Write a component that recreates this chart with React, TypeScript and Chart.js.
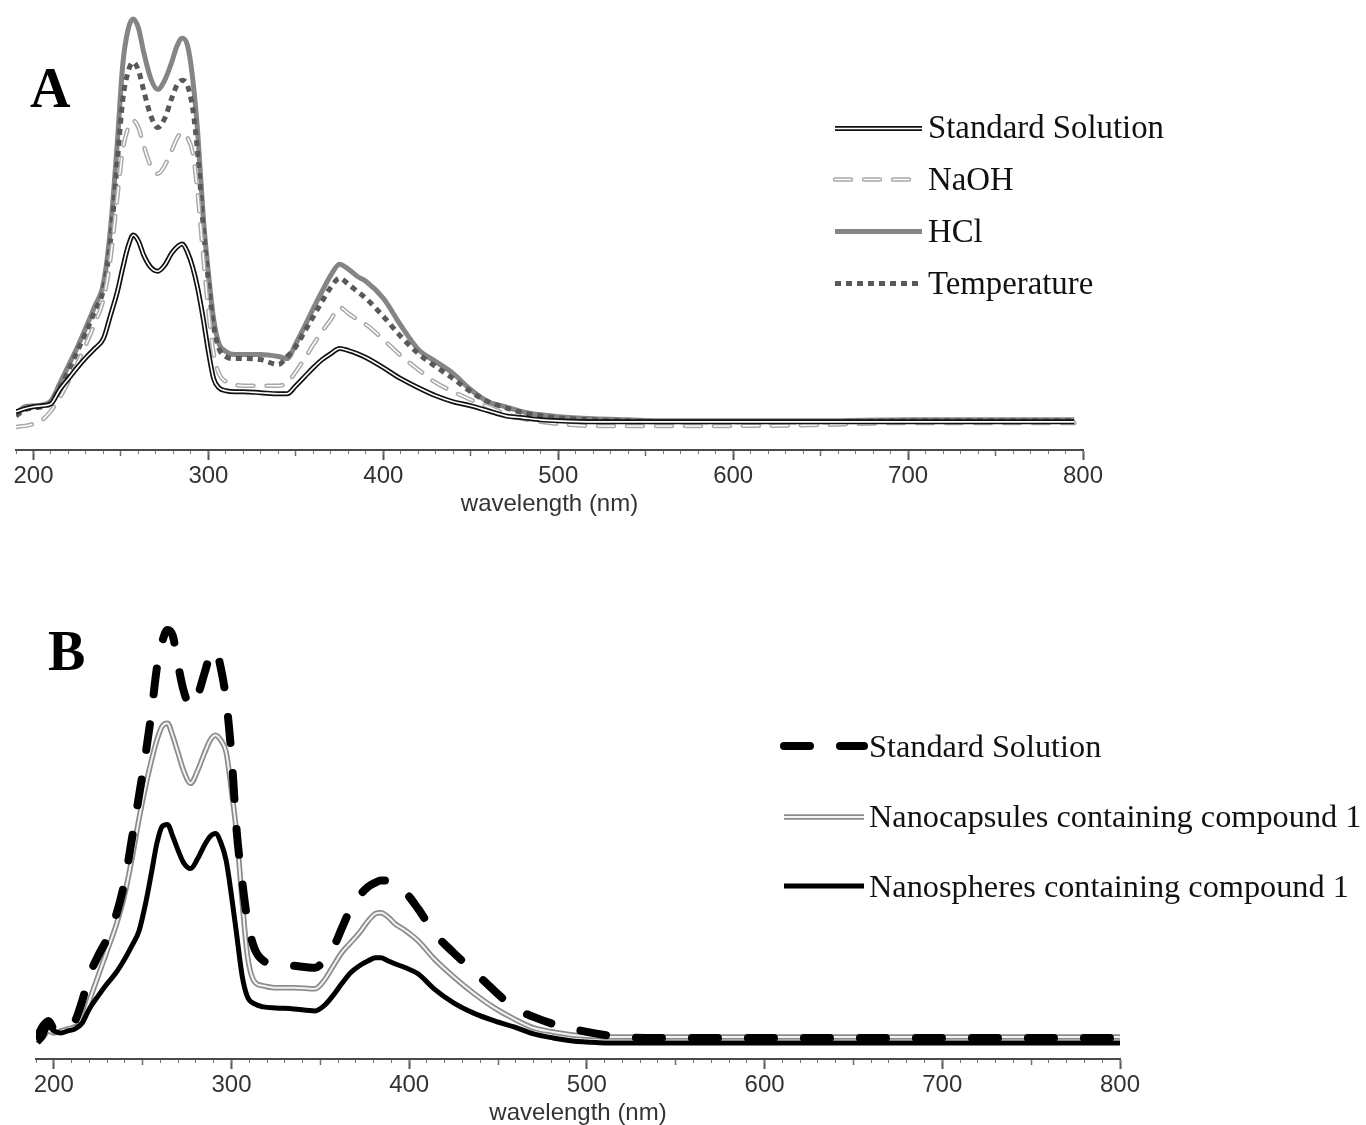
import React, { useEffect, useRef } from 'react';
import { Chart, registerables } from 'chart.js';

Chart.register(...registerables);

// ---------- Panel A data (wavelength nm, absorbance a.u.) ----------
const wavelengthA = [190, 195, 200, 205, 210, 215, 220, 225, 230, 235, 240, 244, 248, 251, 254, 257, 260, 263, 267, 271, 275, 279, 282, 285, 288, 291, 294, 297, 300, 303, 306, 310, 315, 320, 330, 340, 345, 350, 355, 360, 365, 370, 375, 380, 385, 390, 400, 410, 420, 430, 440, 450, 460, 470, 480, 490, 500, 520, 540, 560, 580, 600, 650, 700, 750, 795];

const standardA = [0.19, 0.205, 0.215, 0.22, 0.23, 0.30, 0.355, 0.41, 0.46, 0.505,
  0.555, 0.67, 0.79, 0.905, 1.01, 1.07, 1.04, 0.97, 0.91, 0.89,
  0.92, 0.98, 1.01, 1.025, 0.985, 0.91, 0.80, 0.655, 0.49, 0.355,
  0.31, 0.295, 0.29, 0.29, 0.285, 0.28, 0.28, 0.32, 0.365, 0.41,
  0.45, 0.48, 0.505, 0.495, 0.48, 0.46, 0.41, 0.355, 0.31, 0.27,
  0.24, 0.22, 0.195, 0.17, 0.16, 0.15, 0.145, 0.14, 0.14, 0.14,
  0.14, 0.14, 0.14, 0.14, 0.14, 0.14];

const naohA = [0.115, 0.12, 0.13, 0.15, 0.195, 0.26, 0.34, 0.43, 0.525, 0.63,
  0.75, 0.95, 1.265, 1.49, 1.60, 1.64, 1.605, 1.515, 1.415, 1.375,
  1.415, 1.49, 1.55, 1.58, 1.555, 1.48, 1.265, 0.965, 0.69, 0.48,
  0.38, 0.34, 0.325, 0.32, 0.32, 0.32, 0.335, 0.39, 0.455, 0.525,
  0.59, 0.65, 0.71, 0.68, 0.65, 0.625, 0.55, 0.47, 0.40, 0.335,
  0.29, 0.25, 0.215, 0.18, 0.155, 0.14, 0.13, 0.12, 0.12, 0.12,
  0.12, 0.12, 0.125, 0.135, 0.135, 0.135];

const hclA = [0.18, 0.215, 0.22, 0.225, 0.245, 0.33, 0.42, 0.51, 0.61, 0.715,
  0.83, 1.10, 1.54, 1.915, 2.09, 2.145, 2.10, 1.98, 1.85, 1.795,
  1.84, 1.93, 2.01, 2.05, 2.015, 1.85, 1.565, 1.165, 0.88, 0.65,
  0.53, 0.49, 0.475, 0.475, 0.475, 0.465, 0.455, 0.53, 0.615, 0.705,
  0.79, 0.87, 0.925, 0.90, 0.865, 0.84, 0.755, 0.62, 0.50, 0.44,
  0.38, 0.30, 0.24, 0.215, 0.19, 0.175, 0.165, 0.155, 0.15, 0.145,
  0.145, 0.145, 0.145, 0.15, 0.15, 0.15];

const temperatureA = [0.17, 0.20, 0.21, 0.215, 0.235, 0.31, 0.395, 0.49, 0.585, 0.69,
  0.80, 1.04, 1.44, 1.74, 1.88, 1.93, 1.89, 1.79, 1.665, 1.605,
  1.65, 1.75, 1.815, 1.84, 1.815, 1.70, 1.465, 1.115, 0.84, 0.615,
  0.505, 0.465, 0.455, 0.455, 0.45, 0.425, 0.465, 0.515, 0.59, 0.665,
  0.74, 0.81, 0.855, 0.825, 0.79, 0.755, 0.665, 0.565, 0.48, 0.415,
  0.355, 0.29, 0.24, 0.21, 0.185, 0.17, 0.16, 0.15, 0.145, 0.14,
  0.14, 0.14, 0.14, 0.145, 0.145, 0.145];

// ---------- Panel B data ----------
const wavelengthB = [191, 194, 197, 200, 204, 208, 212, 216, 220, 225, 230, 235, 240, 244, 248, 252, 255, 258, 261, 264, 267, 270, 273, 277, 281, 285, 288, 291, 294, 297, 300, 303, 306, 309, 313, 318, 325, 335, 347, 352, 357, 362, 367, 372, 377, 381, 384, 388, 392, 398, 405, 414, 425, 436, 448, 459, 470, 481, 492, 500, 510, 520, 540, 560, 580, 600, 640, 680, 720, 760, 800];

const standardB = [0.115, 0.165, 0.19, 0.15, 0.14, 0.155, 0.19, 0.29, 0.415, 0.515,
  0.60, 0.715, 0.89, 1.10, 1.315, 1.54, 1.73, 1.95, 2.08, 2.14,
  2.11, 1.965, 1.84, 1.76, 1.815, 1.93, 2.015, 2.04, 1.95, 1.79,
  1.515, 1.13, 0.89, 0.69, 0.55, 0.49, 0.475, 0.465, 0.455, 0.49,
  0.55, 0.65, 0.75, 0.815, 0.86, 0.88, 0.89, 0.89, 0.87, 0.83,
  0.75, 0.63, 0.53, 0.44, 0.34, 0.255, 0.21, 0.175, 0.15, 0.135,
  0.12, 0.11, 0.105, 0.105, 0.105, 0.105, 0.105, 0.105, 0.105, 0.105,
  0.105];

const nanocapsulesB = [0.09, 0.11, 0.14, 0.13, 0.14, 0.15, 0.16, 0.18, 0.29, 0.415,
  0.54, 0.665, 0.825, 1.00, 1.20, 1.375, 1.49, 1.59, 1.66, 1.675,
  1.61, 1.525, 1.44, 1.375, 1.44, 1.53, 1.59, 1.615, 1.59, 1.53,
  1.34, 1.115, 0.79, 0.515, 0.385, 0.365, 0.355, 0.355, 0.35, 0.39,
  0.46, 0.53, 0.58, 0.63, 0.69, 0.725, 0.73, 0.71, 0.675, 0.64,
  0.59, 0.50, 0.41, 0.33, 0.255, 0.20, 0.155, 0.135, 0.12, 0.115,
  0.11, 0.11, 0.11, 0.11, 0.11, 0.11, 0.11, 0.11, 0.11, 0.11,
  0.11];

const nanospheresB = [0.08, 0.11, 0.165, 0.14, 0.13, 0.14, 0.15, 0.18, 0.25, 0.315,
  0.375, 0.43, 0.50, 0.565, 0.64, 0.79, 0.93, 1.075, 1.16, 1.17,
  1.11, 1.04, 0.98, 0.95, 1.00, 1.07, 1.11, 1.125, 1.08, 0.99,
  0.815, 0.615, 0.415, 0.31, 0.275, 0.26, 0.255, 0.25, 0.24, 0.265,
  0.315, 0.375, 0.43, 0.465, 0.49, 0.505, 0.505, 0.49, 0.475, 0.455,
  0.425, 0.35, 0.28, 0.23, 0.19, 0.16, 0.125, 0.105, 0.09, 0.085,
  0.08, 0.08, 0.08, 0.08, 0.08, 0.08, 0.08, 0.08, 0.08, 0.08,
  0.08];

// ---------- ticks / labels ----------
const majorTicks = [200, 300, 400, 500, 600, 700, 800];
const midTicks = [250, 350, 450, 550, 650, 750];
const minorTicks = [190, 200, 210, 220, 230, 240, 250, 260, 270, 280, 290, 300, 310, 320, 330, 340, 350, 360, 370, 380, 390, 400, 410, 420, 430, 440, 450, 460, 470, 480, 490, 500, 510, 520, 530, 540, 550, 560, 570, 580, 590, 600, 610, 620, 630, 640, 650, 660, 670, 680, 690, 700, 710, 720, 730, 740, 750, 760, 770, 780, 790, 800];
const legendLabelsA = ['Standard Solution', 'NaOH', 'HCl', 'Temperature'];
const legendLabelsB = ['Standard Solution', 'Nanocapsules containing compound 1', 'Nanospheres containing compound 1'];
const axisTitle = 'wavelength (nm)';

const SANS = '"Liberation Sans", Arial, sans-serif';
const SERIF = '"Liberation Serif", "Times New Roman", serif';

function pts(xs: number[], ys: number[]) {
  return xs.map((x, i) => ({ x, y: ys[i] }));
}

function makeScales() {
  return {
    x: {
      type: 'linear', position: 'bottom', min: 190, max: 800,
      afterBuildTicks: (ax: any) => { ax.ticks = majorTicks.map((v) => ({ value: v })); },
      ticks: { autoSkip: false, maxRotation: 0, padding: 4, color: '#333', font: { family: SANS, size: 24, lineHeight: 1.0 } },
      grid: { drawOnChartArea: false, drawTicks: true, tickLength: 10, tickWidth: 2, tickColor: '#555' },
      border: { display: true, color: '#4a4a4a', width: 2 },
      title: { display: true, text: axisTitle, color: '#333', font: { family: SANS, size: 24, lineHeight: 1.0 }, padding: { top: 0, bottom: 0 } },
    },
    xh: {
      type: 'linear', axis: 'x', position: { y: 0 }, min: 190, max: 800,
      afterBuildTicks: (ax: any) => { ax.ticks = midTicks.map((v) => ({ value: v })); },
      ticks: { display: false },
      grid: { drawOnChartArea: false, drawTicks: true, tickLength: 6, tickWidth: 1.5, tickColor: '#666' },
      border: { display: false },
    },
    xm: {
      type: 'linear', axis: 'x', position: { y: 0 }, min: 190, max: 800,
      afterBuildTicks: (ax: any) => { ax.ticks = minorTicks.map((v) => ({ value: v })); },
      ticks: { display: false },
      grid: { drawOnChartArea: false, drawTicks: true, tickLength: 4, tickWidth: 1, tickColor: '#777' },
      border: { display: false },
    },
    y: { type: 'linear', display: false, min: 0, max: 2.19 },
  };
}

type AnnotCfg = {
  letter: string; letterX: number; letterY: number;
  items: { label: string; datasets: number[] }[];
  x0: number; x1: number; lineY: number[]; textX: number; textY: number[];
  textFont: string;
};

function makeAnnot(cfg: AnnotCfg) {
  return {
    id: 'panelAnnot',
    afterDraw(chart: any) {
      const ctx = chart.ctx as CanvasRenderingContext2D;
      ctx.save();
      ctx.fillStyle = '#000';
      ctx.textBaseline = 'alphabetic';
      ctx.textAlign = 'left';
      ctx.font = `bold 56px ${SERIF}`;
      ctx.fillText(cfg.letter, cfg.letterX, cfg.letterY);
      cfg.items.forEach((item, k) => {
        const y = cfg.lineY[k];
        item.datasets.forEach((di) => {
          const ds = chart.data.datasets[di];
          ctx.beginPath();
          ctx.strokeStyle = ds.borderColor;
          ctx.lineWidth = ds.borderWidth;
          ctx.setLineDash(ds.borderDash || []);
          ctx.lineDashOffset = ds.borderDashOffset || 0;
          ctx.lineCap = ds.borderCapStyle || 'butt';
          ctx.moveTo(cfg.x0, y);
          ctx.lineTo(cfg.x1, y);
          ctx.stroke();
        });
        ctx.setLineDash([]);
        ctx.font = cfg.textFont;
        ctx.fillStyle = '#111';
        ctx.fillText(item.label, cfg.textX, cfg.textY[k]);
      });
      ctx.restore();
    },
  };
}

const lineBase = { pointRadius: 0, fill: false, cubicInterpolationMode: 'monotone', borderJoinStyle: 'round' };

export default function App() {
  const refA = useRef<HTMLCanvasElement>(null);
  const refB = useRef<HTMLCanvasElement>(null);

  useEffect(() => {
    const chartA = new Chart(refA.current as HTMLCanvasElement, {
      type: 'line',
      data: {
        datasets: [
          { ...lineBase, label: 'Standard Solution (core)', data: pts(wavelengthA, standardA), borderColor: '#ffffff', borderWidth: 1.6 },
          { ...lineBase, label: legendLabelsA[0], data: pts(wavelengthA, standardA), borderColor: '#111111', borderWidth: 5 },
          { ...lineBase, label: 'NaOH (core)', data: pts(wavelengthA, naohA), borderColor: '#ffffff', borderWidth: 1.5, borderDash: [16, 13], borderCapStyle: 'round' },
          { ...lineBase, label: legendLabelsA[1], data: pts(wavelengthA, naohA), borderColor: '#a9a9a9', borderWidth: 4.5, borderDash: [16, 13], borderCapStyle: 'round' },
          { ...lineBase, label: legendLabelsA[3], data: pts(wavelengthA, temperatureA), borderColor: '#595959', borderWidth: 5, borderDash: [6, 5] },
          { ...lineBase, label: legendLabelsA[2], data: pts(wavelengthA, hclA), borderColor: '#858585', borderWidth: 5 },
        ] as any,
      },
      options: {
        responsive: false, animation: false, events: [],
        layout: { padding: { left: 16, right: 283, top: 10, bottom: 24 } },
        plugins: { legend: { display: false }, tooltip: { enabled: false } },
        scales: makeScales() as any,
      },
      plugins: [makeAnnot({
        letter: 'A', letterX: 30, letterY: 107,
        items: [
          { label: legendLabelsA[0], datasets: [1, 0] },
          { label: legendLabelsA[1], datasets: [3, 2] },
          { label: legendLabelsA[2], datasets: [5] },
          { label: legendLabelsA[3], datasets: [4] },
        ],
        x0: 835, x1: 922, lineY: [128.5, 179.5, 231.5, 283.5], textX: 928, textY: [138, 190, 242, 293.5],
        textFont: `32.8px ${SERIF}`,
      })],
    } as any);

    const chartB = new Chart(refB.current as HTMLCanvasElement, {
      type: 'line',
      data: {
        datasets: [
          { ...lineBase, label: legendLabelsB[0], data: pts(wavelengthB, standardB), borderColor: '#000000', borderWidth: 8, borderDash: [26, 30], borderCapStyle: 'round' },
          { ...lineBase, label: legendLabelsB[2], data: pts(wavelengthB, nanospheresB), borderColor: '#000000', borderWidth: 5 },
          { ...lineBase, label: 'Nanocapsules (core)', data: pts(wavelengthB, nanocapsulesB), borderColor: '#f2f2f2', borderWidth: 2 },
          { ...lineBase, label: legendLabelsB[1], data: pts(wavelengthB, nanocapsulesB), borderColor: '#8c8c8c', borderWidth: 5.5 },
        ] as any,
      },
      options: {
        responsive: false, animation: false, events: [],
        layout: { padding: { left: 36, right: 246, top: 80, bottom: 0 } },
        plugins: { legend: { display: false }, tooltip: { enabled: false } },
        scales: makeScales() as any,
      },
      plugins: [makeAnnot({
        letter: 'B', letterX: 48, letterY: 130,
        items: [
          { label: legendLabelsB[0], datasets: [0] },
          { label: legendLabelsB[1], datasets: [3, 2] },
          { label: legendLabelsB[2], datasets: [1] },
        ],
        x0: 784, x1: 864, lineY: [206, 277, 346], textX: 869, textY: [217, 287, 357],
        textFont: `32.3px ${SERIF}`,
      })],
    } as any);

    return () => { chartA.destroy(); chartB.destroy(); };
  }, []);

  return (
    <div style={{ position: 'absolute', left: 0, top: 0, width: 1366, height: 1125, overflow: 'hidden', background: '#ffffff' }}>
      <canvas ref={refA} width={1366} height={540} style={{ position: 'absolute', left: 0, top: 0 }} />
      <canvas ref={refB} width={1366} height={585} style={{ position: 'absolute', left: 0, top: 540 }} />
    </div>
  );
}
